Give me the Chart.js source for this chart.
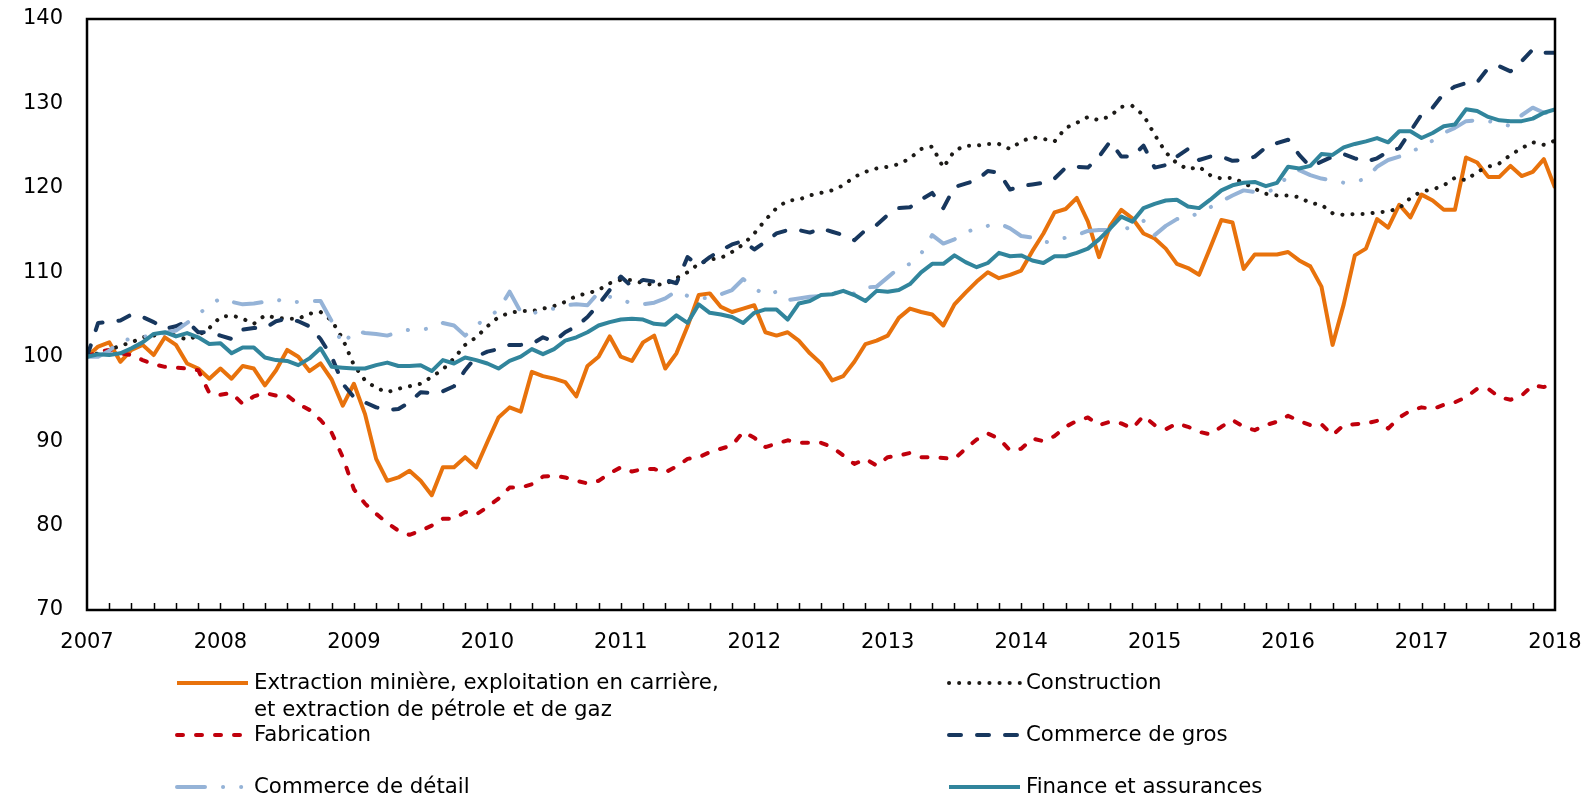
<!DOCTYPE html>
<html>
<head>
<meta charset="utf-8">
<script src="https://cdn.jsdelivr.net/npm/chart.js@4.4.1/dist/chart.umd.min.js"></script>
<style>
  html, body { margin: 0; padding: 0; background: #fff; }
  #wrap { width: 1585px; height: 797px; }
</style>
</head>
<body>
<div id="wrap"><canvas id="chart" width="1585" height="797"></canvas></div>
<script>
// monthly index, Jan 2007 = 100
const years = ["2007", "2008", "2009", "2010", "2011", "2012", "2013", "2014", "2015", "2016", "2017", "2018"];

const extraction = [
  100.0, 101.2, 101.7, 99.4, 100.8, 101.4, 100.2, 102.3, 101.4, 99.2, 98.6, 97.4,
  98.6, 97.4, 98.9, 98.6, 96.6, 98.4, 100.8, 100.0, 98.3, 99.2, 97.3, 94.2,
  96.8, 93.2, 87.9, 85.3, 85.7, 86.5, 85.3, 83.6, 86.9, 86.9, 88.1, 86.9,
  89.9, 92.8, 94.0, 93.5, 98.2, 97.7, 97.4, 97.0, 95.3, 98.9, 100.0, 102.4,
  100.0, 99.5, 101.7, 102.5, 98.6, 100.4, 103.6, 107.3, 107.5, 105.9, 105.3, 105.7,
  106.1, 102.9, 102.5, 102.9, 101.9, 100.4, 99.2, 97.2, 97.7, 99.4, 101.5, 101.9,
  102.5, 104.6, 105.7, 105.3, 105.0, 103.7, 106.2, 107.6, 108.9, 110.0, 109.3, 109.7,
  110.2, 112.5, 114.6, 117.1, 117.5, 118.8, 116.0, 111.8, 115.5, 117.4, 116.4, 114.6,
  114.0, 112.8, 111.0, 110.5, 109.7, 112.9, 116.2, 115.9, 110.4, 112.1, 112.1, 112.1,
  112.4, 111.4, 110.7, 108.3, 101.4, 106.2, 112.0, 112.8, 116.3, 115.3, 118.0, 116.5,
  119.2, 118.5, 117.4, 117.4, 123.6, 123.0, 121.3, 121.3, 122.6, 121.4, 121.9, 123.4,
  120.0
];

const construction = [
  100.0, 100.4, 100.8, 101.3, 101.7, 102.3, 102.5, 102.8, 102.5, 102.0, 102.5, 103.4,
  104.7, 104.9, 104.5, 103.9, 104.9, 104.6, 104.5, 104.5, 105.1, 105.3, 104.3, 102.1,
  99.0, 97.2, 96.3, 95.8, 96.2, 96.5, 96.8, 97.6, 98.5, 99.8, 101.4, 102.3,
  103.6, 104.7, 105.2, 105.4, 105.4, 105.7, 106.0, 106.5, 107.2, 107.5, 107.9, 108.7,
  109.1, 109.1, 108.7, 108.5, 108.6, 109.3, 110.0, 111.0, 111.5, 111.7, 112.4, 113.3,
  114.6, 116.2, 117.6, 118.5, 118.6, 119.1, 119.4, 119.7, 120.3, 121.3, 121.9, 122.3,
  122.5, 122.8, 123.5, 124.6, 124.9, 122.4, 124.4, 125.0, 125.0, 125.2, 125.2, 124.6,
  125.5, 126.0, 125.8, 125.5, 127.1, 127.7, 128.4, 128.0, 128.5, 129.6, 129.7, 128.6,
  126.3, 124.2, 122.9, 122.2, 122.5, 121.5, 121.1, 121.2, 120.6, 119.9, 119.3, 119.1,
  119.1, 118.9, 118.2, 118.0, 117.0, 116.8, 116.9, 116.9, 117.1, 117.2, 117.6, 118.8,
  119.6, 119.8, 120.3, 121.2, 120.9, 121.9, 122.5, 122.9, 123.9, 124.7, 125.4, 125.1,
  125.6
];

const fabrication = [
  100.0, 100.6, 100.8, 100.4, 100.2, 99.6, 99.1, 98.8, 98.7, 98.6, 98.4, 95.7,
  95.5, 95.7, 94.4, 95.3, 95.7, 95.4, 95.4, 94.4, 93.7, 92.5, 91.0, 88.1,
  84.3, 82.6, 81.4, 80.3, 79.4, 78.9, 79.4, 80.0, 80.8, 80.8, 81.6, 81.3,
  82.2, 83.2, 84.5, 84.5, 84.9, 85.8, 85.9, 85.7, 85.3, 85.0, 85.3, 86.2,
  86.9, 86.4, 86.7, 86.7, 86.3, 87.0, 87.9, 88.1, 88.7, 89.1, 89.5, 91.1,
  90.4, 89.3, 89.7, 90.1, 89.8, 89.8, 89.8, 89.3, 88.3, 87.3, 87.9, 87.1,
  88.1, 88.3, 88.6, 88.1, 88.1, 88.0, 87.9, 89.1, 90.2, 90.9, 90.3, 88.9,
  89.1, 90.3, 90.0, 90.6, 91.7, 92.4, 92.8, 91.9, 92.3, 92.1, 91.5, 93.0,
  91.9, 91.4, 92.1, 91.7, 91.1, 90.8, 91.7, 92.5, 91.7, 91.3, 91.9, 92.3,
  93.0, 92.4, 91.9, 92.0, 90.7, 91.9, 92.0, 92.1, 92.4, 91.5, 92.8, 93.6,
  94.0, 93.8, 94.3, 94.6, 95.2, 96.2, 96.2, 95.2, 94.9, 95.4, 96.6, 96.4,
  97.1
];

const commerceGros = [
  100.0, 104.0, 104.1, 104.3, 105.0, 104.7, 104.1, 103.3, 103.6, 104.2, 102.9, 102.9,
  102.5, 102.1, 103.2, 103.4, 103.4, 104.2, 104.5, 104.2, 103.6, 102.1, 100.0, 96.8,
  95.2, 94.6, 94.0, 93.7, 93.8, 94.6, 95.8, 95.7, 95.9, 96.5, 98.4, 100.0,
  100.6, 100.9, 101.4, 101.4, 101.5, 102.3, 101.8, 102.9, 103.6, 104.7, 106.2, 107.9,
  109.5, 108.3, 109.1, 108.9, 109.1, 108.7, 111.8, 110.8, 111.8, 112.6, 113.3, 113.7,
  112.7, 113.6, 114.6, 115.0, 115.0, 114.7, 115.2, 114.8, 114.4, 113.8, 115.0, 115.6,
  116.8, 117.6, 117.7, 118.6, 119.4, 117.6, 120.1, 120.5, 120.9, 122.0, 121.8, 119.8,
  120.2, 120.4, 120.6, 121.1, 122.4, 122.5, 122.4, 123.7, 125.5, 123.7, 123.7, 125.0,
  122.4, 122.7, 123.7, 124.6, 123.3, 123.7, 123.7, 123.2, 123.3, 123.7, 124.8, 125.3,
  125.7, 123.9, 122.5, 123.1, 123.7, 124.0, 123.5, 123.1, 123.5, 124.3, 124.7, 126.7,
  128.7, 129.5, 131.2, 132.0, 132.4, 132.5, 134.2, 134.4, 133.8, 135.0, 136.4, 136.0,
  136.0
];

const commerceDetail = [
  100.0, 100.0, 100.7, 101.9, 102.1, 102.3, 102.7, 102.8, 103.1, 104.0, 105.0, 106.1,
  106.9, 106.5, 106.2, 106.3, 106.5, 106.8, 106.4, 106.5, 106.6, 106.6, 104.2, 101.4,
  103.1, 102.8, 102.7, 102.5, 102.9, 103.2, 103.2, 103.4, 104.0, 103.7, 102.5, 103.7,
  104.7, 105.5, 107.7, 105.3, 105.1, 105.5, 105.7, 106.1, 106.2, 106.1, 107.6, 107.1,
  106.8, 106.3, 106.2, 106.4, 106.9, 107.8, 107.2, 107.0, 106.9, 107.4, 107.9, 109.2,
  108.1, 107.3, 107.7, 106.7, 106.9, 107.1, 107.2, 107.6, 107.5, 107.5, 108.2, 108.3,
  109.4, 110.5, 111.0, 112.2, 114.4, 113.4, 113.9, 114.8, 115.1, 115.5, 115.8, 115.2,
  114.3, 114.1, 113.5, 113.8, 114.1, 114.4, 114.9, 115.0, 115.0, 115.0, 115.4, 116.1,
  114.4, 115.5, 116.3, 116.4, 117.1, 117.7, 118.4, 119.1, 119.7, 119.5, 119.5, 119.9,
  121.5, 122.1, 121.5, 121.1, 120.9, 120.6, 120.7, 121.1, 122.5, 123.3, 123.7, 124.3,
  124.8, 125.6, 126.5, 127.1, 127.9, 128.0, 127.9, 127.7, 127.3, 128.6, 129.5, 128.9,
  128.8
];

const finance = [
  100.0, 100.3, 100.2, 100.4, 101.0, 101.7, 102.7, 102.9, 102.4, 102.8, 102.3, 101.5,
  101.6, 100.4, 101.1, 101.1, 99.9, 99.6, 99.5, 99.0, 99.8, 101.0, 98.8, 98.7,
  98.6, 98.6, 99.0, 99.3, 98.9, 98.9, 99.0, 98.3, 99.6, 99.2, 99.9, 99.6,
  99.2, 98.6, 99.5, 100.0, 100.9, 100.3, 100.9, 101.9, 102.3, 102.9, 103.7, 104.1,
  104.4, 104.5, 104.4, 103.9, 103.8, 104.9, 104.0, 106.2, 105.2, 105.0, 104.7, 104.0,
  105.2, 105.6, 105.6, 104.4, 106.3, 106.6, 107.3, 107.4, 107.8, 107.3, 106.6, 107.8,
  107.7, 107.9, 108.6, 110.0, 111.0, 111.0, 112.0, 111.2, 110.6, 111.1, 112.3, 111.9,
  112.0, 111.4, 111.1, 111.9, 111.9, 112.3, 112.8, 113.9, 115.2, 116.6, 116.0, 117.6,
  118.1, 118.5, 118.6, 117.8, 117.6, 118.6, 119.7, 120.3, 120.6, 120.7, 120.2, 120.6,
  122.5, 122.3, 122.6, 124.0, 123.9, 124.8, 125.2, 125.5, 125.9, 125.4, 126.7, 126.7,
  125.9, 126.5, 127.3, 127.5, 129.3, 129.1, 128.4, 128.0, 127.9, 127.9, 128.2, 128.9,
  129.3
];

const months = extraction.map((v, i) => i);

const legendItems = [
  { ds: 0, col: 0, row: 0, text: ["Extraction minière, exploitation en carrière,", "et extraction de pétrole et de gaz"] },
  { ds: 1, col: 1, row: 0, text: ["Construction"] },
  { ds: 2, col: 0, row: 1, text: ["Fabrication"] },
  { ds: 3, col: 1, row: 1, text: ["Commerce de gros"] },
  { ds: 4, col: 0, row: 2, text: ["Commerce de détail"] },
  { ds: 5, col: 1, row: 2, text: ["Finance et assurances"] }
];

const FONT = "DejaVu Sans";

// box around the plot and small tick marks every 2 months
const framePlugin = {
  id: "frame",
  afterDatasetsDraw(chart) {
    const { ctx, chartArea: a, scales } = chart;
    ctx.save();
    ctx.strokeStyle = "#000";
    ctx.lineWidth = 1.5;
    ctx.beginPath();
    for (let m = 2; m < months.length - 1; m += 2) {
      const x = Math.round(scales.x.getPixelForValue(m)) + 0.5;
      ctx.moveTo(x, a.bottom);
      ctx.lineTo(x, a.bottom - 7);
    }
    ctx.stroke();
    ctx.lineWidth = 2.5;
    ctx.strokeRect(a.left, a.top, a.right - a.left, a.bottom - a.top);
    ctx.restore();
  }
};

const legendPlugin = {
  id: "sideLegend",
  afterDraw(chart) {
    const ctx = chart.ctx;
    const colX = [177, 949];
    const textX = [254, 1026];
    const rowY = [683, 735, 787];
    ctx.save();
    ctx.font = "21.3px '" + FONT + "'";
    ctx.textBaseline = "middle";
    ctx.fillStyle = "#000";
    legendItems.forEach((item) => {
      const ds = chart.data.datasets[item.ds];
      const y = rowY[item.row];
      ctx.save();
      ctx.strokeStyle = ds.borderColor;
      ctx.lineWidth = ds.borderWidth;
      ctx.lineCap = ds.borderCapStyle || "butt";
      ctx.setLineDash(ds.borderDash || []);
      ctx.beginPath();
      ctx.moveTo(colX[item.col], y);
      ctx.lineTo(colX[item.col] + 71, y);
      ctx.stroke();
      ctx.restore();
      item.text.forEach((line, i) => {
        ctx.fillText(line, textX[item.col], y + i * 27);
      });
    });
    ctx.restore();
  }
};

function line(label, data, color, dash, cap, order) {
  return {
    label: label,
    data: data,
    borderColor: color,
    backgroundColor: color,
    borderWidth: 4,
    borderDash: dash,
    borderCapStyle: cap,
    borderJoinStyle: "round",
    pointRadius: 0,
    tension: 0,
    fill: false,
    order: order
  };
}

new Chart(document.getElementById("chart"), {
  type: "line",
  data: {
    labels: months,
    datasets: [
      line("Extraction minière, exploitation en carrière, et extraction de pétrole et de gaz", extraction, "#E8720C", [], "butt", 5),
      line("Construction", construction, "#1C1A17", [0.1, 10], "round", 4),
      line("Fabrication", fabrication, "#C0000C", [6, 13], "round", 3),
      line("Commerce de gros", commerceGros, "#17375E", [12, 16], "round", 2),
      line("Commerce de détail", commerceDetail, "#95B3D7", [28, 18, 0.1, 18, 0.1, 18], "round", 1),
      line("Finance et assurances", finance, "#31859C", [], "butt", 0)
    ]
  },
  options: {
    responsive: false,
    animation: false,
    events: [],
    layout: { padding: { top: 19, right: 30, left: 0, bottom: 0 } },
    plugins: {
      legend: { display: false },
      tooltip: { enabled: false }
    },
    scales: {
      x: {
        type: "linear",
        min: 0,
        max: 132,
        grid: { display: false, drawTicks: false },
        border: { display: false },
        ticks: {
          stepSize: 12,
          autoSkip: false,
          maxRotation: 0,
          padding: 20,
          color: "#000",
          font: { family: FONT, size: 21 },
          callback: (v) => years[v / 12]
        },
        afterFit: (scale) => {
          scale.height = 187;
          scale.paddingLeft = 0;
          scale.paddingRight = 0;
        }
      },
      y: {
        min: 70,
        max: 140,
        grid: { display: false, drawTicks: false },
        border: { display: false },
        ticks: {
          stepSize: 10,
          padding: 24,
          color: "#000",
          font: { family: FONT, size: 21 }
        },
        afterFit: (scale) => {
          scale.width = 87;
          scale.paddingTop = 0;
          scale.paddingBottom = 0;
        }
      }
    }
  },
  plugins: [framePlugin, legendPlugin]
});
</script>
</body>
</html>
